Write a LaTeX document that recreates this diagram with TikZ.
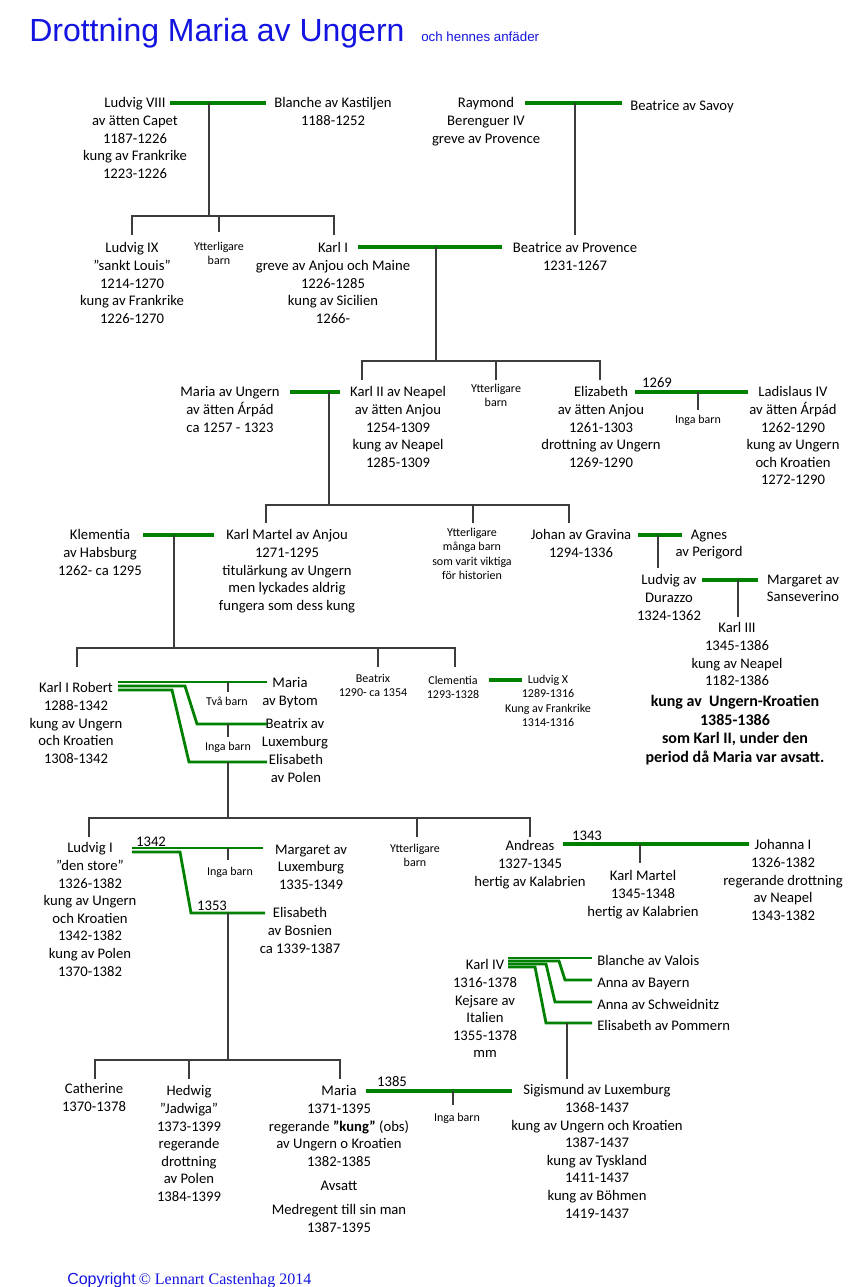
\documentclass[tikz,border=0pt]{standalone}
\usepackage{fontspec}
\setmainfont{Carlito}
\newfontfamily\arialf{Liberation Sans}
\newfontfamily\timesf{Liberation Serif}
\definecolor{mgreen}{RGB}{0,128,0}
\definecolor{tblue}{RGB}{20,20,225}
\definecolor{lgray}{RGB}{60,60,60}
\tikzset{
  ptxt/.style={anchor=north, align=center, inner sep=0pt, yshift=-1.9pt, font=\fontsize{11}{13.2}\selectfont, execute at begin node=\strut},
  stxt/.style={anchor=north, align=center, inner sep=0pt, yshift=-1.1pt, font=\fontsize{9}{10.8}\selectfont, execute at begin node=\strut},
  btxt/.style={ptxt, font=\fontsize{12}{14}\selectfont\bfseries},
  wtxt/.style={ptxt, anchor=north west, align=left},
  lnk/.style={draw=lgray, line width=0.9pt},
  marr/.style={draw=mgreen, line width=3pt},
  marrs/.style={draw=mgreen, line width=2.1pt},
}
\begin{document}
\begin{tikzpicture}[x=0.75pt,y=-0.75pt]
\fill[white] (0,0) rectangle (847,1287);
\useasboundingbox (0,0) rectangle (847,1287);

% titles
\node[anchor=base west, inner sep=0pt, text=tblue, font=\arialf\fontsize{24}{28}\selectfont] (title) at (29,42) {Drottning Maria av Ungern};
\node[anchor=base west, inner sep=0pt, text=tblue, font=\arialf\fontsize{10}{12}\selectfont] (subtitle) at (421,42) {och hennes anfäder};
\node[anchor=base west, inner sep=0pt, text=tblue] (copy) at (67,1284) {{\arialf\fontsize{12}{14}\selectfont Copyright} {\timesf\fontsize{12}{14}\selectfont © Lennart Castenhag 2014}};

% generation 1
\node[ptxt] (ludvig8) at (135,95) {Ludvig VIII\\av ätten Capet\\1187-1226\\kung av Frankrike\\1223-1226};
\node[ptxt] (blanche) at (333,95) {Blanche av Kastiljen\\1188-1252};
\node[ptxt] (raymond) at (486,95) {Raymond\\Berenguer IV\\greve av Provence};
\node[ptxt] (beatsavoy) at (682,95) {Beatrice av Savoy};

% generation 2
\node[ptxt] (ludvig9) at (132,240) {Ludvig IX\\”sankt Louis”\\1214-1270\\kung av Frankrike\\1226-1270};
\node[stxt] (ytt1) at (219,240.5) {Ytterligare\\barn};
\node[ptxt] (karl1) at (333,240) {Karl I\\greve av Anjou och Maine\\1226-1285\\kung av Sicilien\\1266-};
\node[ptxt] (beatprov) at (575,240) {Beatrice av Provence\\1231-1267};

% generation 3
\node[ptxt] (mariaung) at (230,384) {Maria av Ungern\\av ätten Árpád\\ca 1257 - 1323};
\node[ptxt] (karl2) at (398,384) {Karl II av Neapel\\av ätten Anjou\\1254-1309\\kung av Neapel\\1285-1309};
\node[stxt] (ytt2) at (496,382.5) {Ytterligare\\barn};
\node[ptxt] (elizabeth) at (601,384) {Elizabeth\\av ätten Anjou\\1261-1303\\drottning av Ungern\\1269-1290};
\node[ptxt] (y1269) at (657,372) {1269};
\node[stxt] (inga1) at (698,411.5) {Inga barn};
\node[ptxt] (ladislaus) at (793,384) {Ladislaus IV\\av ätten Árpád\\1262-1290\\kung av Ungern\\och Kroatien\\1272-1290};

% generation 4
\node[ptxt] (klementia) at (100,527) {Klementia\\av Habsburg\\1262- ca 1295};
\node[ptxt] (karlmartel) at (287,527) {Karl Martel av Anjou\\1271-1295\\titulärkung av Ungern\\men lyckades aldrig\\fungera som dess kung};
\node[stxt] (ytt3) at (472,526.5) {Ytterligare\\många barn\\som varit viktiga\\för historien};
\node[ptxt] (johan) at (581,527) {Johan av Gravina\\1294-1336};
\node[ptxt] (agnes) at (709,527) {Agnes\\av Perigord};
\node[ptxt] (ludvigdur) at (669,572) {Ludvig av\\Durazzo\\1324-1362};
\node[ptxt] (margsans) at (803,572) {Margaret av\\Sanseverino};
\node[ptxt] (karl3) at (737,620) {Karl III\\1345-1386\\kung av Neapel\\1182-1386};
\node[btxt] (karl3b) at (735,692.5) {kung av\ \ Ungern-Kroatien\\1385-1386\\som Karl II, under den\\period då Maria var avsatt.};

% generation 5
\node[ptxt] (karlrobert) at (76,680) {Karl I Robert\\1288-1342\\kung av Ungern\\och Kroatien\\1308-1342};
\node[ptxt] (mariabytom) at (290,675) {Maria\\av Bytom};
\node[stxt] (tvabarn) at (227,693.5) {Två barn};
\node[ptxt] (beatrixlux) at (295,716) {Beatrix av\\Luxemburg};
\node[stxt] (inga2) at (228,738.5) {Inga barn};
\node[ptxt] (elispolen) at (296,752) {Elisabeth\\av Polen};
\node[stxt] (beatrix) at (373,672.5) {Beatrix\\1290- ca 1354};
\node[stxt] (clementia) at (453,674.5) {Clementia\\1293-1328};
\node[stxt] (ludvigx) at (548,673.5) {Ludvig X\\1289-1316\\Kung av Frankrike\\1314-1316};

% generation 6
\node[ptxt] (ludvig1) at (90,840) {Ludvig I\\”den store”\\1326-1382\\kung av Ungern\\och Kroatien\\1342-1382\\kung av Polen\\1370-1382};
\node[ptxt] (y1342) at (151,831) {1342};
\node[stxt] (inga3) at (230,863.5) {Inga barn};
\node[ptxt] (margarlux) at (311,842) {Margaret av\\Luxemburg\\1335-1349};
\node[ptxt] (y1353) at (212,895) {1353};
\node[ptxt] (elisbosn) at (300,905) {Elisabeth\\av Bosnien\\ca 1339-1387};
\node[stxt] (ytt4) at (415,842.5) {Ytterligare\\barn};
\node[ptxt] (andreas) at (530,838) {Andreas\\1327-1345\\hertig av Kalabrien};
\node[ptxt] (y1343) at (587,825) {1343};
\node[ptxt] (karlmartel2) at (643,868) {Karl Martel\\1345-1348\\hertig av Kalabrien};
\node[ptxt] (johanna) at (783,837) {Johanna I\\1326-1382\\regerande drottning\\av Neapel\\1343-1382};

% Karl IV
\node[ptxt] (karl4) at (485,957) {Karl IV\\1316-1378\\Kejsare av\\Italien\\1355-1378\\mm};
\node[wtxt] (blanchev) at (597,950) {Blanche av Valois};
\node[wtxt] (annab) at (597,972) {Anna av Bayern};
\node[wtxt] (annas) at (597,994) {Anna av Schweidnitz};
\node[wtxt] (elisp) at (597,1015) {Elisabeth av Pommern};

% generation 7
\node[ptxt] (catherine) at (94,1081) {Catherine\\1370-1378};
\node[ptxt] (hedwig) at (189,1083) {Hedwig\\”Jadwiga”\\1373-1399\\regerande\\drottning\\av Polen\\1384-1399};
\node[ptxt] (maria) at (339,1083) {Maria\\1371-1395\\regerande \textbf{”kung”} (obs)\\av Ungern o Kroatien\\1382-1385\\[5pt]Avsatt\\[5pt]Medregent till sin man\\1387-1395};
\node[ptxt] (y1385) at (392,1071) {1385};
\node[stxt] (inga4) at (457,1109.5) {Inga barn};
\node[ptxt] (sigismund) at (597,1082) {Sigismund av Luxemburg\\1368-1437\\kung av Ungern och Kroatien\\1387-1437\\kung av Tyskland\\1411-1437\\kung av Böhmen\\1419-1437};

% ---------- connectors ----------
% Ludvig VIII + Blanche
\draw[marr] (170,103) -- (266,103);
\coordinate (j1) at (209,103);
\draw[lnk] (j1) -- (209,216);
\draw[lnk] (132,235) -- (132,216) -- (334,216) -- (334,235);
\draw[lnk] (219,216) -- (219,232);
% Raymond + Beatrice av Savoy
\draw[marr] (525,103) -- (622,103);
\coordinate (j2) at (575,103);
\draw[lnk] (j2) -- (575,235);
% Karl I + Beatrice av Provence
\draw[marr] (358,247) -- (502,247);
\coordinate (j3) at (436,247);
\draw[lnk] (j3) -- (436,361);
\draw[lnk] (362,380) -- (362,361) -- (600,361) -- (600,380);
\draw[lnk] (496,361) -- (496,380);
% Elizabeth + Ladislaus
\draw[marr] (635,392) -- (748,392);
\draw[lnk] (698,392) -- (698,410);
% Maria av Ungern + Karl II
\draw[marr] (290,392) -- (340,392);
\coordinate (j4) at (329,392);
\draw[lnk] (j4) -- (329,505);
\draw[lnk] (266,523) -- (266,505) -- (569,505) -- (569,523);
\draw[lnk] (473,505) -- (473,523);
% Johan + Agnes
\draw[marr] (638,535) -- (682,535);
\draw[lnk] (658,535) -- (658,568);
% Ludvig av Durazzo + Margaret
\draw[marr] (702,580) -- (758,580);
\draw[lnk] (738,580) -- (738,617);
% Klementia + Karl Martel
\draw[marr] (143,535) -- (214,535);
\coordinate (j5) at (174,535);
\draw[lnk] (j5) -- (174,648);
\draw[lnk] (77,667) -- (77,648) -- (455,648) -- (455,667);
\draw[lnk] (378,648) -- (378,667);
% Clementia + Ludvig X
\draw[marr] (489,680) -- (522,680);
% Karl I Robert
\draw[marrs] (118,682) -- (267,682);
\draw[marrs] (118,686) -- (185,686) -- (197,724) -- (267,724);
\draw[marrs] (118,690) -- (172,690) -- (189,762) -- (267,762);
\draw[lnk] (228,682) -- (228,692);
\draw[lnk] (228,724) -- (228,737);
\coordinate (j6) at (228,762);
\draw[lnk] (j6) -- (228,818);
\draw[lnk] (89,837) -- (89,818) -- (530,818) -- (530,837);
\draw[lnk] (417,818) -- (417,837);
% Ludvig I
\draw[marrs] (132,848) -- (263,848);
\draw[marrs] (132,852) -- (180,852) -- (191,913) -- (265,913);
\draw[lnk] (228,848) -- (228,860);
\coordinate (j7) at (228,913);
\draw[lnk] (j7) -- (228,1060);
\draw[lnk] (95,1079) -- (95,1060) -- (340,1060) -- (340,1079);
\draw[lnk] (189,1060) -- (189,1079);
% Andreas + Johanna
\draw[marr] (563,844) -- (749,844);
\draw[lnk] (640,844) -- (640,863);
% Karl IV
\draw[marrs] (508,958) -- (592,958);
\draw[marrs] (508,961) -- (559,961) -- (565,980) -- (592,980);
\draw[marrs] (508,964) -- (546,964) -- (555,1002) -- (592,1002);
\draw[marrs] (508,967) -- (535,967) -- (546,1023) -- (592,1023);
\coordinate (j8) at (567,1023);
\draw[lnk] (j8) -- (567,1079);
% Maria + Sigismund
\draw[marr] (366,1091) -- (512,1091);
\draw[lnk] (453,1091) -- (453,1105);
\end{tikzpicture}
\end{document}
